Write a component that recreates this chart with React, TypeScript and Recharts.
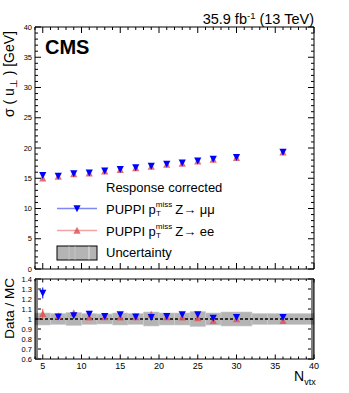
import React from 'react'
import {
  ComposedChart,
  Scatter,
  XAxis,
  YAxis,
  ErrorBar,
  ReferenceArea,
  ReferenceLine,
} from 'recharts'

// number of reconstructed vertices (bin centres)
const nvtx = [5, 7, 9, 11, 13, 15, 17, 19, 21, 23, 25, 27, 30, 36]

// sigma(u_perp) [GeV]
const sigmaMuMu = [15.5, 15.4, 15.8, 15.9, 16.25, 16.5, 16.8, 17.05, 17.35, 17.55, 17.9, 18.2, 18.5, 19.35]
const sigmaMuMuErr = [0.3, 0.15, 0.12, 0.1, 0.1, 0.1, 0.1, 0.1, 0.1, 0.1, 0.12, 0.15, 0.15, 0.3]
const sigmaEE = [15.0, 15.3, 15.7, 15.8, 16.15, 16.4, 16.7, 16.95, 17.25, 17.45, 17.8, 18.1, 18.4, 19.3]
const sigmaEEErr = [0.3, 0.15, 0.12, 0.1, 0.1, 0.1, 0.1, 0.1, 0.1, 0.1, 0.12, 0.15, 0.2, 0.4]

// data / MC
const ratioMuMu = [1.26, 1.024, 1.035, 1.05, 1.027, 1.045, 1.024, 1.017, 1.027, 1.045, 1.045, 1.01, 1.017, 1.017]
const ratioMuMuErr = [0.055, 0.012, 0.01, 0.01, 0.01, 0.01, 0.01, 0.01, 0.01, 0.01, 0.012, 0.012, 0.012, 0.02]
const ratioEE = [1.052, 1.03, 1.06, 1.017, 1.02, 1.017, 1.02, 1.045, 1.02, 1.017, 1.01, 0.982, 1.0, 0.982]
const ratioEEErr = [0.05, 0.015, 0.015, 0.012, 0.012, 0.012, 0.012, 0.012, 0.012, 0.012, 0.015, 0.015, 0.015, 0.025]

// systematic uncertainty band (bin edges, half width)
const bandLo = [4, 6, 8, 10, 12, 14, 16, 18, 20, 22, 24, 26, 28, 32, 34]
const bandHi = [6, 8, 10, 12, 14, 16, 18, 20, 22, 24, 26, 28, 32, 34, 40]
const bandErr = [0.06, 0.055, 0.065, 0.055, 0.05, 0.06, 0.055, 0.07, 0.06, 0.06, 0.075, 0.06, 0.07, 0.055, 0.055]

const xTicks = Array.from({ length: 37 }, (_, i) => 4 + i)
const xLabels = [5, 10, 15, 20, 25, 30, 35, 40]
const yTopTicks = Array.from({ length: 41 }, (_, i) => i)
const yTopLabels = [0, 5, 10, 15, 20, 25, 30, 35, 40]
const yRatioTicks = Array.from({ length: 41 }, (_, i) => Math.round((0.6 + i * 0.02) * 100) / 100)
const yRatioLabels = [0.6, 0.7, 0.8, 0.9, 1, 1.1, 1.2, 1.3, 1.4]

const FONT = "'Liberation Sans', Arial, Helvetica, sans-serif"
const BLUE = '#0000ff'
const RED = '#e05555'
const BAND = '#b4b4b4'

const topMuMu = nvtx.map((x, i) => ({ x, y: sigmaMuMu[i], e: sigmaMuMuErr[i] }))
const topEE = nvtx.map((x, i) => ({ x, y: sigmaEE[i], e: sigmaEEErr[i] }))
const botMuMu = nvtx.map((x, i) => ({ x, y: ratioMuMu[i], e: ratioMuMuErr[i] }))
const botEE = nvtx.map((x, i) => ({ x, y: ratioEE[i], e: ratioEEErr[i] }))

const near = (v: number, list: number[]) => list.some((l) => Math.abs(l - v) < 1e-6)

function Tri({ cx, cy, down, color, opacity = 1 }: any) {
  const w = 3.6
  const h = 3.2
  const pts = down
    ? `${cx - w},${cy - h} ${cx + w},${cy - h} ${cx},${cy + h + 0.6}`
    : `${cx - w},${cy + h} ${cx + w},${cy + h} ${cx},${cy - h - 0.6}`
  return <polygon points={pts} fill={color} fillOpacity={opacity} />
}

// ROOT-like ticks: drawn inward, labels only on majors
const makeTick =
  (side: 'left' | 'right' | 'top' | 'bottom', majors: number[], labels: number[] | null,
    fontSize = 7.5, majorLen = 6, minorLen = 3) =>
  (props: any) => {
    const { x, y, payload } = props
    const v = payload.value
    const major = near(v, majors)
    const len = major ? majorLen : minorLen
    let x2 = x
    let y2 = y
    if (side === 'left') x2 = x + len
    if (side === 'right') x2 = x - len
    if (side === 'bottom') y2 = y - len
    if (side === 'top') y2 = y + len
    const showLabel = labels && near(v, labels)
    const txt = String(Number(v.toFixed(2)))
    return (
      <g>
        <line x1={x} y1={y} x2={x2} y2={y2} stroke="#000" strokeWidth={1} />
        {showLabel && side === 'left' && (
          <text x={x - 3} y={y} dy="0.35em" textAnchor="end" fontSize={fontSize} fontFamily={FONT} fill="#000">
            {txt}
          </text>
        )}
        {showLabel && side === 'bottom' && (
          <text x={x} y={y + 10} textAnchor="middle" fontSize={fontSize} fontFamily={FONT} fill="#000">
            {txt}
          </text>
        )}
      </g>
    )
  }

const axisCommon = {
  type: 'number' as const,
  allowDataOverflow: true,
  interval: 0 as const,
  tickSize: 0,
  tickMargin: 0,
  tickLine: false,
  axisLine: { stroke: '#000', strokeWidth: 1 },
}

function TopPanel() {
  return (
    <ComposedChart width={349} height={278} margin={{ top: 26, right: 34, bottom: 8, left: 34 }}>
      <XAxis {...axisCommon} xAxisId="b" dataKey="x" domain={[4, 40]} ticks={xTicks} height={1}
        tick={makeTick('bottom', xLabels, null)} />
      <XAxis {...axisCommon} xAxisId="t" orientation="top" dataKey="x" domain={[4, 40]} ticks={xTicks} height={1}
        tick={makeTick('top', xLabels, null)} />
      <YAxis {...axisCommon} yAxisId="l" dataKey="y" domain={[0, 40]} ticks={yTopTicks} width={1}
        tick={makeTick('left', yTopLabels, yTopLabels)} />
      <YAxis {...axisCommon} yAxisId="r" orientation="right" dataKey="y" domain={[0, 40]} ticks={yTopTicks} width={1}
        tick={makeTick('right', yTopLabels, null)} />
      <Scatter xAxisId="b" yAxisId="l" data={topEE} isAnimationActive={false}
        shape={(p: any) => <Tri cx={p.cx} cy={p.cy} color={RED} opacity={0.85} />}>
        <ErrorBar dataKey="e" direction="y" width={0} stroke={RED} strokeWidth={1} />
      </Scatter>
      <Scatter xAxisId="b" yAxisId="l" data={topMuMu} isAnimationActive={false}
        shape={(p: any) => <Tri cx={p.cx} cy={p.cy} down color={BLUE} />}>
        <ErrorBar dataKey="e" direction="y" width={0} stroke={BLUE} strokeWidth={1} />
      </Scatter>
    </ComposedChart>
  )
}

function RatioPanel() {
  return (
    <ComposedChart width={349} height={122} margin={{ top: 7, right: 34, bottom: 33, left: 34 }}>
      <XAxis {...axisCommon} xAxisId="b" dataKey="x" domain={[4, 40]} ticks={xTicks} height={1}
        tick={makeTick('bottom', xLabels, xLabels, 9, 4.5, 2.5)} />
      <XAxis {...axisCommon} xAxisId="t" orientation="top" dataKey="x" domain={[4, 40]} ticks={xTicks} height={1}
        tick={makeTick('top', xLabels, null, 9, 3.5, 2)} />
      <YAxis {...axisCommon} yAxisId="l" dataKey="y" domain={[0.6, 1.4]} ticks={yRatioTicks} width={1}
        tick={makeTick('left', yRatioLabels, yRatioLabels, 7.5, 6, 3)} />
      <YAxis {...axisCommon} yAxisId="r" orientation="right" dataKey="y" domain={[0.6, 1.4]} ticks={yRatioTicks} width={1}
        tick={makeTick('right', yRatioLabels, null, 7.5, 6, 3)} />
      {bandLo.map((lo, i) => (
        <ReferenceArea key={i} xAxisId="b" yAxisId="l" x1={lo} x2={bandHi[i]} y1={1 - bandErr[i]} y2={1 + bandErr[i]}
          fill={BAND} fillOpacity={1} stroke="#cfcfcf" strokeWidth={0.6} />
      ))}
      <ReferenceLine xAxisId="b" yAxisId="l" y={1} stroke="#000" strokeWidth={1.5} strokeDasharray="3 2" />
      <Scatter xAxisId="b" yAxisId="l" data={botEE} isAnimationActive={false}
        shape={(p: any) => <Tri cx={p.cx} cy={p.cy} color={RED} opacity={0.85} />}>
        <ErrorBar dataKey="e" direction="y" width={0} stroke={RED} strokeWidth={1} />
      </Scatter>
      <Scatter xAxisId="b" yAxisId="l" data={botMuMu} isAnimationActive={false}
        shape={(p: any) => <Tri cx={p.cx} cy={p.cy} down color={BLUE} />}>
        <ErrorBar dataKey="e" direction="y" width={0} stroke={BLUE} strokeWidth={1} />
      </Scatter>
    </ComposedChart>
  )
}

function Overlay() {
  return (
    <svg width={349} height={393} style={{ position: 'absolute', left: 0, top: 0, pointerEvents: 'none' }}
      fontFamily={FONT} fill="#000">
      <text x={314} y={24} textAnchor="end" fontSize={14.5}>
        35.9 fb<tspan dy={-5} fontSize={9.5}>-1</tspan>
        <tspan dy={5}> (13 TeV)</tspan>
      </text>
      <text x={45} y={54} fontSize={20} fontWeight="bold">CMS</text>

      <text transform="translate(14,31) rotate(-90)" textAnchor="end" fontSize={14}>
        σ ( u<tspan dy={3} fontSize={10}>⊥</tspan>
        <tspan dy={-3}> ) [GeV]</tspan>
      </text>
      <text transform="translate(13.5,278) rotate(-90)" textAnchor="end" fontSize={13.5}>
        Data / MC
      </text>
      <text x={294} y={381} fontSize={14}>
        N<tspan dy={3.5} fontSize={9}>vtx</tspan>
      </text>

      {/* legend */}
      <text x={106} y={192} fontSize={13}>Response corrected</text>

      <line x1={57} x2={97} y1={208.5} y2={208.5} stroke="#7d88f2" strokeWidth={1.5} />
      <Tri cx={77} cy={208.5} down color={BLUE} />
      <text x={106} y={214} fontSize={13}>
        PUPPI p<tspan dy={-7.5} fontSize={8}>miss</tspan>
        <tspan dx={-16.4} dy={9.5} fontSize={8}>T</tspan>
        <tspan dx={14.5} dy={-2}>Z→ μμ</tspan>
      </text>

      <line x1={57} x2={97} y1={230.5} y2={230.5} stroke="#f2a3a3" strokeWidth={1.5} />
      <Tri cx={77} cy={230.5} color={RED} opacity={0.85} />
      <text x={106} y={236} fontSize={13}>
        PUPPI p<tspan dy={-7.5} fontSize={8}>miss</tspan>
        <tspan dx={-16.4} dy={9.5} fontSize={8}>T</tspan>
        <tspan dx={14.5} dy={-2}>Z→ ee</tspan>
      </text>

      <rect x={57} y={246} width={40} height={14} fill={BAND} stroke="#000" strokeWidth={1} />
      <line x1={69} x2={69} y1={246.5} y2={259.5} stroke="#d6d6d6" strokeDasharray="1 1" />
      <line x1={75} x2={75} y1={246.5} y2={259.5} stroke="#d6d6d6" strokeDasharray="1 1" />
      <line x1={89} x2={89} y1={246.5} y2={259.5} stroke="#e2e2e2" />
      <text x={106} y={257} fontSize={13}>Uncertainty</text>
    </svg>
  )
}

export default function App() {
  return (
    <div style={{ position: 'absolute', left: 0, top: 0, width: 349, height: 393, background: '#fff' }}>
      <div style={{ position: 'absolute', left: 0, top: 0 }}>
        <TopPanel />
      </div>
      <div style={{ position: 'absolute', left: 0, top: 271 }}>
        <RatioPanel />
      </div>
      <Overlay />
    </div>
  )
}
